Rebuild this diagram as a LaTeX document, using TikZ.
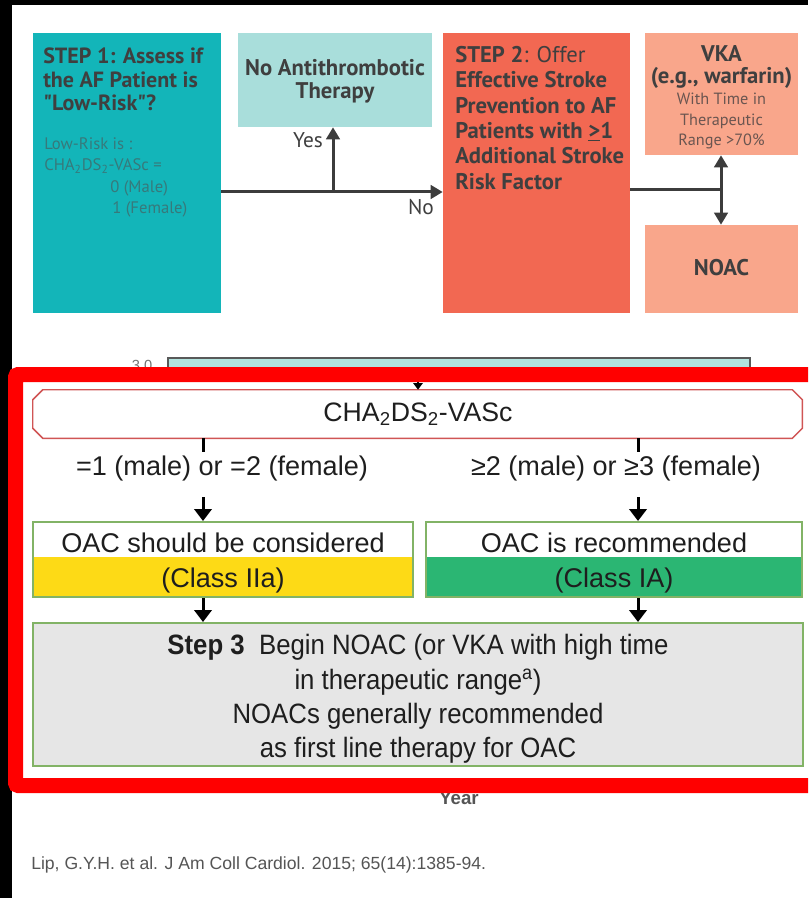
\documentclass[tikz,border=0pt]{standalone}
\usepackage{fontspec}
\setmainfont{Liberation Sans}
\newfontfamily\topfont{PT Sans}
\newfontfamily\condfont[FakeStretch=0.92]{Liberation Sans}
\usetikzlibrary{arrows.meta,fit}
\definecolor{tealA}{HTML}{13B5B9}
\definecolor{tealB}{HTML}{A9DEDB}
\definecolor{redA}{HTML}{F26852}
\definecolor{salmon}{HTML}{F9A68B}
\definecolor{txt}{HTML}{3F3F3F}
\definecolor{lowtxt}{HTML}{37797B}
\definecolor{vkatxt}{HTML}{6A5550}
\definecolor{lineg}{HTML}{3C3C3C}
\definecolor{yel}{HTML}{FDDA16}
\definecolor{grn}{HTML}{2BB673}
\definecolor{bord}{HTML}{82B366}
\definecolor{chabord}{HTML}{D05555}
\definecolor{grayfill}{HTML}{E6E6E6}
\definecolor{frameRed}{HTML}{FF0000}
\definecolor{chartfill}{HTML}{B2E3DE}
\definecolor{lowdark}{HTML}{1E1E1E}
\definecolor{citegray}{HTML}{555555}
\tikzset{
  boxfit/.style={inner sep=0pt, fill=#1},
  toptxt/.style={font=\topfont\fontsize{16.5}{17.6}\selectfont\bfseries, text=txt, align=left},
  arrT/.style={draw=lineg, line width=2.25pt, -{Triangle[length=9pt,width=10pt]}},
  lineT/.style={draw=lineg, line width=2.25pt},
  dblT/.style={draw=lineg, line width=2.25pt, {Triangle[length=9pt,width=10pt]}-{Triangle[length=9pt,width=10pt]}},
  lineB/.style={draw=black, line width=2.25pt},
  arrB/.style={draw=black, line width=2.25pt, -{Triangle[length=9pt,width=13pt]}},
  lowtext/.style={font=\fontsize{20.3}{20.3}\selectfont, text=lowdark, align=center},
  oacbox/.style={inner sep=0pt, draw=bord, line width=1.5pt, fill=white,
    path picture={\fill[#1] (path picture bounding box.south west) rectangle ([yshift=30pt]path picture bounding box.south east);}},
}
\begin{document}
\begin{tikzpicture}[x=0.75pt,y=-0.75pt, every node/.style={inner sep=0pt}]
\useasboundingbox (0,0) rectangle (808,898);
\fill[white] (0,0) rectangle (808,898);
\fill[black] (0,0) rectangle (808,5);
\fill[black] (0,0) rectangle (12,898);

% ---------- top flow ----------
\node[boxfit=tealA, fit={(33,33) (221,313)}] (step1) {};
\node[boxfit=tealB, fit={(238,33) (432,127)}] (noanti) {};
\node[boxfit=redA, fit={(443,33) (630,313)}] (step2) {};
\node[boxfit=salmon, fit={(645,33) (798,155)}] (vka) {};
\node[boxfit=salmon, fit={(645,225) (798,313)}] (noac) {};

\node[font=\topfont\fontsize{17}{17.3}\selectfont\bfseries, text=txt, align=center] (noantit) at (335,81) {No Antithrombotic\\Therapy};
\node[font=\topfont\fontsize{17}{17}\selectfont\bfseries, text=txt] (noact) at (721.5,268) {NOAC};

\node[toptxt, anchor=north west] (s1t) at (43,48) {STEP 1: Assess if\\the AF Patient is\\"Low-Risk"?};
\node[anchor=north west, font=\topfont\fontsize{12.5}{16}\selectfont, text=lowtxt, align=left] (lr1) at (44,137) {Low-Risk is :\\CHA\textsubscript{2}DS\textsubscript{2}-VASc =};
\node[anchor=north west, font=\topfont\fontsize{12.5}{16}\selectfont, text=lowtxt, align=left] (lr2) at (110,180) {0 (Male)\\\hspace*{1.5pt}1 (Female)};

\node[anchor=north west, font=\topfont\fontsize{17}{19}\selectfont, text=txt, align=left] (s2t) at (455,46)
  {\textbf{STEP 2}: Offer\\\textbf{Effective Stroke}\\\textbf{Prevention to AF}\\\textbf{Patients with \underline{>}1}\\\textbf{Additional Stroke}\\\textbf{Risk Factor}};

\node[font=\topfont\fontsize{17}{16.5}\selectfont\bfseries, text=txt, align=center] (vkat) at (721.5,67) {VKA\\(e.g., warfarin)};
\node[font=\topfont\fontsize{12.2}{15.4}\selectfont, text=vkatxt, align=center] (vkas) at (721.5,121) {With Time in\\Therapeutic\\Range >70\%};

\coordinate (j1) at (333,192);
\coordinate (j2) at (721,190);
\draw[arrT] (step1.east |- j1) -- (step2.west |- j1);
\draw[arrT] (j1) -- (j1 |- noanti.south);
\node[font=\topfont\fontsize{16}{16}\selectfont, text=txt] (yes) at (308,140) {Yes};
\node[font=\topfont\fontsize{16}{16}\selectfont, text=txt] (no) at (421,207) {No};
\draw[lineT] (step2.east |- j2) -- (j2);
\draw[dblT] (j2 |- vka.south) -- (j2 |- noac.north);

% ---------- partly hidden chart ----------
\node[boxfit=chartfill, draw=black!65, line width=1.5pt, fit={(168,358) (750,381)}] (chart) {};
\node[anchor=north, font=\fontsize{11}{11}\selectfont, text=black!55] (ylab) at (142,360) {3.0};
\node[anchor=base, font=\fontsize{14}{14}\selectfont\bfseries, text=citegray] (year) at (459,804) {Year};
\node[anchor=west, font=\fontsize{13.2}{13.2}\selectfont, text=citegray] (cite) at (31,865) {Lip, G.Y.H. et al. J Am Coll Cardiol. 2015; 65(14):1385-94.};

% ---------- highlighted flow ----------
\fill[white] (23,382) rectangle (808,778);
\node[fit={(33,390) (802,438)}] (cha) {};
\node[font=\fontsize{20}{20}\selectfont, text=lowdark] (chat) at (418,414) {CHA\textsubscript{2}DS\textsubscript{2}-VASc};
\draw[chabord, line width=1.1pt] ([xshift=7.5pt]cha.north west) -- ([xshift=-7.5pt]cha.north east) -- ([yshift=-7.5pt]cha.north east) -- ([yshift=7.5pt]cha.south east) -- ([xshift=-7.5pt]cha.south east) -- ([xshift=7.5pt]cha.south west) -- ([yshift=7.5pt]cha.south west) -- ([yshift=-7.5pt]cha.north west) -- cycle;
\draw[draw=black, line width=1.5pt, -{Triangle[length=5pt,width=7pt]}] (chart.south -| chat) -- (chat |- cha.north);
\draw[frameRed, line width=11.25pt, rounded corners=2pt] (808,374.5) -- (15.5,374.5) -- (15.5,785.5) -- (808,785.5);

\coordinate (s1) at (203,452);
\coordinate (a1) at (203,497);
\coordinate (s2) at (638,452);
\coordinate (a2) at (638,497);
\node[lowtext] (lab1) at (222,468) {=1 (male) or =2 (female)};
\node[lowtext] (lab2) at (616,468) {≥2 (male) or ≥3 (female)};
\node[oacbox=yel, fit={(33,522) (413,597)}] (oac1) {};
\node[oacbox=grn, fit={(426,522) (802,597)}] (oac2) {};
\node[lowtext] (oac1a) at (223,543) {OAC should be considered};
\node[lowtext] (oac1b) at (223,580) {(Class IIa)};
\node[lowtext] (oac2a) at (614,543) {OAC is recommended};
\node[lowtext] (oac2b) at (614,580) {(Class IA)};
\node[inner sep=0pt, draw=bord, line width=1.5pt, fill=grayfill, fit={(33,623) (803,766)}] (step3) {};
\node[font=\condfont\fontsize{21}{25.7}\selectfont, text=lowdark, align=center] (step3t) at (418,699)
  {\textbf{Step 3}\ \ Begin NOAC (or VKA with high time\\in therapeutic range\textsuperscript{a})\\NOACs generally recommended\\as first line therapy for OAC};

\draw[lineB] (s1 |- cha.south) -- (s1);
\draw[lineB] (s2 |- cha.south) -- (s2);
\draw[arrB] (a1) -- (a1 |- oac1.north);
\draw[arrB] (a2) -- (a2 |- oac2.north);
\draw[arrB] (a1 |- oac1.south) -- (a1 |- step3.north);
\draw[arrB] (a2 |- oac2.south) -- (a2 |- step3.north);
\end{tikzpicture}
\end{document}
